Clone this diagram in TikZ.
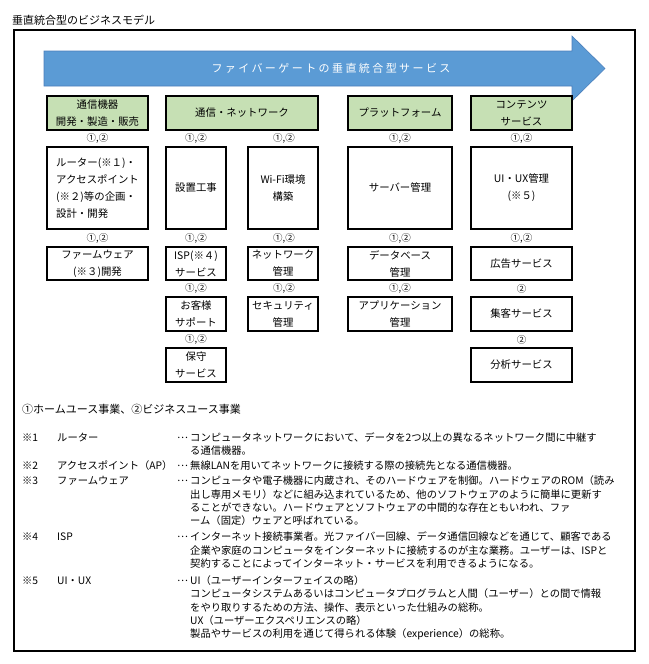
\documentclass[tikz,border=0pt]{standalone}
\usepackage{fontspec}
\setmainfont{Noto Sans CJK JP}
\newfontfamily\arrowfont[LetterSpace=22]{Noto Sans CJK JP}
\definecolor{hgreen}{HTML}{C6E0B4}
\definecolor{arrowblue}{HTML}{5B9BD5}
\definecolor{arrowedge}{HTML}{4A7EBB}
\tikzset{
  boxbase/.style={draw=black, line width=1.5pt, align=center, inner sep=0pt,
    font=\fontsize{10.4}{17}\selectfont},
  hbox/.style={boxbase, fill=hgreen},
  wbox/.style={boxbase, fill=white},
  lab/.style={inner sep=0pt, font=\fontsize{9.5}{11}\selectfont},
  note/.style={anchor=west, inner sep=0pt, font=\fontsize{10.3}{13}\selectfont},
}
\begin{document}
\begin{tikzpicture}[x=1pt,y=-1pt]
\useasboundingbox (0,0) rectangle (648,664);
% title
\node[anchor=west, inner sep=0pt, font=\fontsize{11}{13}\selectfont] (title) at (12,20) {垂直統合型のビジネスモデル};
% frame
\draw[line width=1.6pt] (14,30) rectangle (635,651);
% arrow
\draw[fill=arrowblue, draw=arrowedge, line width=0.6pt]
  (44,51) -- (572,51) -- (572,36) -- (605,68.5) -- (572,101) -- (572,86) -- (44,86) -- cycle;
\node[inner sep=0pt, text=white, font=\arrowfont\fontsize{11}{13}\selectfont] (arrowtxt) at (331,68.5) {ファイバーゲートの垂直統合型サービス};
% headers
\node[hbox, minimum width=101pt, minimum height=34pt] (h1) at (97.5,113) {通信機器\\開発・製造・販売};
\node[hbox, minimum width=152pt, minimum height=34pt] (h2) at (242,113) {通信・ネットワーク};
\node[hbox, minimum width=104pt, minimum height=34pt] (h3) at (400,113) {プラットフォーム};
\node[hbox, minimum width=101pt, minimum height=34pt] (h4) at (521.5,113) {コンテンツ\\サービス};
% labels row 1
\node[lab] (l11) at (97.5,138.5) {①,②};
\node[lab] (l12) at (196,138.5) {①,②};
\node[lab] (l13) at (284,138.5) {①,②};
\node[lab] (l14) at (400,138.5) {①,②};
\node[lab] (l15) at (521.5,138.5) {①,②};
% row B
\node[wbox, minimum width=101pt, minimum height=82pt, align=left] (b1) at (97.5,188) {ルーター(※１)・\\アクセスポイント\\(※２)等の企画・\\設計・開発};
\node[wbox, minimum width=60pt, minimum height=82pt] (b2) at (196,188) {設置工事};
\node[wbox, minimum width=70pt, minimum height=82pt] (b3) at (283,188) {Wi-Fi環境\\構築};
\node[wbox, minimum width=104pt, minimum height=82pt] (b4) at (400,188) {サーバー管理};
\node[wbox, minimum width=101pt, minimum height=82pt] (b5) at (521.5,188) {UI・UX管理\\(※５)};
% labels row 2
\node[lab] (l21) at (97.5,238) {①,②};
\node[lab] (l22) at (196,238) {①,②};
\node[lab] (l23) at (284,238) {①,②};
\node[lab] (l24) at (400,238) {①,②};
\node[lab] (l25) at (521.5,238) {①,②};
% row C
\node[wbox, minimum width=101pt, minimum height=33pt] (c1) at (97.5,263.5) {ファームウェア\\(※３)開発};
\node[wbox, minimum width=60pt, minimum height=33pt] (c2) at (196,263.5) {ISP(※４)\\サービス};
\node[wbox, minimum width=70pt, minimum height=33pt] (c3) at (283,263.5) {ネットワーク\\管理};
\node[wbox, minimum width=104pt, minimum height=33pt] (c4) at (400,263.5) {データベース\\管理};
\node[wbox, minimum width=101pt, minimum height=33pt] (c5) at (521.5,263.5) {広告サービス};
% labels row 3
\node[lab] (l32) at (196,288.5) {①,②};
\node[lab] (l33) at (284,288.5) {①,②};
\node[lab] (l34) at (400,288.5) {①,②};
\node[lab] (l35) at (521.5,288.5) {②};
% row D
\node[wbox, minimum width=60pt, minimum height=34pt] (d2) at (196,314) {お客様\\サポート};
\node[wbox, minimum width=70pt, minimum height=34pt] (d3) at (283,314) {セキュリティ\\管理};
\node[wbox, minimum width=104pt, minimum height=34pt] (d4) at (400,314) {アプリケーション\\管理};
\node[wbox, minimum width=101pt, minimum height=34pt] (d5) at (521.5,314) {集客サービス};
% labels row 4
\node[lab] (l42) at (196,339.5) {①,②};
\node[lab] (l45) at (521.5,339.5) {②};
% row E
\node[wbox, minimum width=60pt, minimum height=34pt] (e2) at (196,365) {保守\\サービス};
\node[wbox, minimum width=101pt, minimum height=34pt] (e5) at (521.5,365) {分析サービス};
% legend
\node[anchor=west, inner sep=0pt, font=\fontsize{11}{13}\selectfont] (legend) at (22,409) {①ホームユース事業、②ビジネスユース事業};
% notes
\node[note] (n1a) at (22,438) {※1};
\node[note] (n1b) at (57,438) {ルーター};
\node[note] (n1c) at (177,438) {…};
\node[note] (n1d) at (190,438) {コンピュータネットワークにおいて、データを2つ以上の異なるネットワーク間に中継す};
\node[note] (n1e) at (190,451) {る通信機器。};
\node[note] (n2a) at (22,466) {※2};
\node[note] (n2b) at (57,466) {アクセスポイント（AP）};
\node[note] (n2c) at (177,466) {…};
\node[note] (n2d) at (190,466) {無線LANを用いてネットワークに接続する際の接続先となる通信機器。};
\node[note] (n3a) at (22,481) {※3};
\node[note] (n3b) at (57,481) {ファームウェア};
\node[note] (n3c) at (177,481) {…};
\node[note] (n3d) at (190,481) {コンピュータや電子機器に内蔵され、そのハードウェアを制御。ハードウェアのROM（読み};
\node[note] (n3e) at (190,495) {出し専用メモリ）などに組み込まれているため、他のソフトウェアのように簡単に更新す};
\node[note] (n3f) at (190,508) {ることができない。ハードウェアとソフトウェアの中間的な存在ともいわれ、ファ};
\node[note] (n3g) at (190,521) {ーム（固定）ウェアと呼ばれている。};
\node[note] (n4a) at (22,537) {※4};
\node[note] (n4b) at (57,537) {ISP};
\node[note] (n4c) at (177,537) {…};
\node[note] (n4d) at (190,537) {インターネット接続事業者。光ファイバー回線、データ通信回線などを通じて、顧客である};
\node[note] (n4e) at (190,551) {企業や家庭のコンピュータをインターネットに接続するのが主な業務。ユーザーは、ISPと};
\node[note] (n4f) at (190,564) {契約することによってインターネット・サービスを利用できるようになる。};
\node[note] (n5a) at (22,581) {※5};
\node[note] (n5b) at (57,581) {UI・UX};
\node[note] (n5c) at (177,581) {…};
\node[note] (n5d) at (190,581) {UI（ユーザーインターフェイスの略）};
\node[note] (n5e) at (190,594) {コンピュータシステムあるいはコンピュータプログラムと人間（ユーザー）との間で情報};
\node[note] (n5f) at (190,608) {をやり取りするための方法、操作、表示といった仕組みの総称。};
\node[note] (n5g) at (190,621) {UX（ユーザーエクスペリエンスの略）};
\node[note] (n5h) at (190,634) {製品やサービスの利用を通じて得られる体験（experience）の総称。};
\end{tikzpicture}
\end{document}
